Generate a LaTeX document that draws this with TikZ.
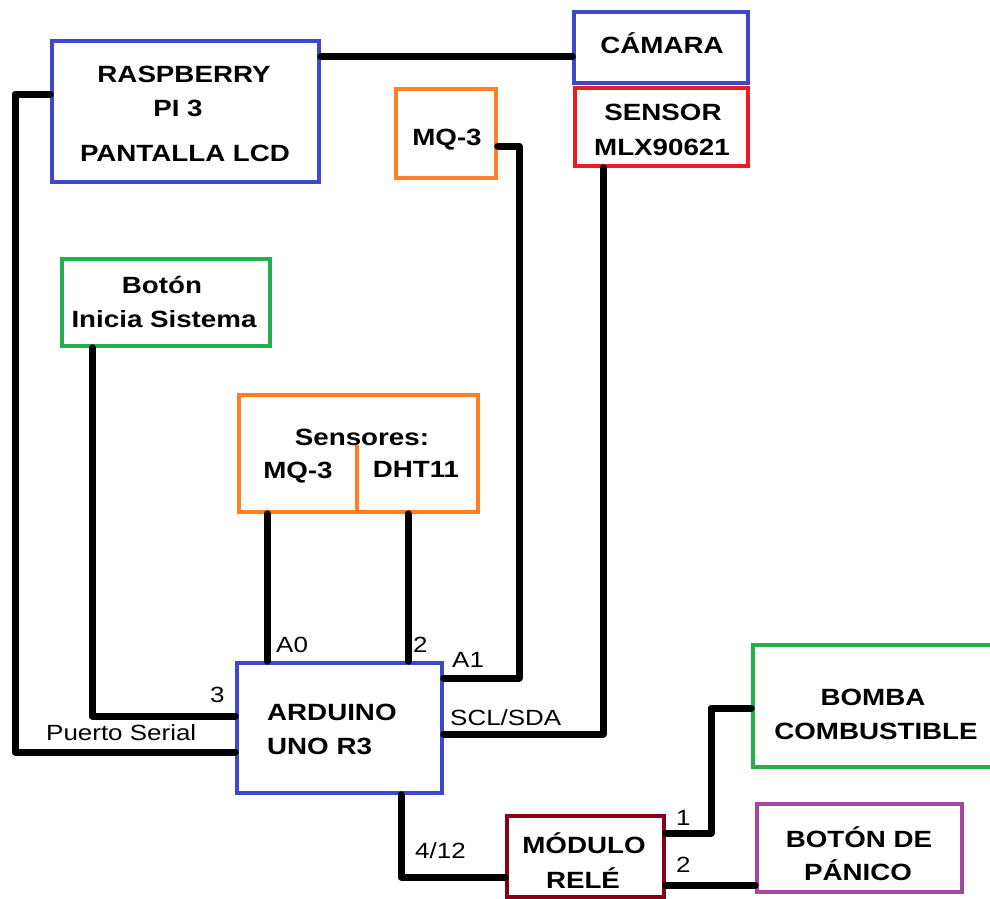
\documentclass[tikz,border=0pt]{standalone}
\usepackage{fontspec}
\setmainfont{Liberation Sans}[FakeStretch=1.18]
\usetikzlibrary{fit}
\definecolor{cblue}{HTML}{3F48CC}
\definecolor{corange}{HTML}{FF7F27}
\definecolor{cred}{HTML}{ED1C24}
\definecolor{cgreen}{HTML}{22B14C}
\definecolor{cpurple}{HTML}{A349A4}
\definecolor{cdarkred}{HTML}{880015}
\tikzset{
  blockbox/.style={draw=#1, line width=3.5pt, inner sep=0pt, fill=none},
  title/.style={anchor=base, inner sep=0pt, font=\fontsize{23.5}{28}\selectfont\bfseries},
  titleleft/.style={title, anchor=base west},
  pin/.style={anchor=base west, inner sep=0pt, font=\fontsize{22}{26}\selectfont},
  wire/.style={draw=black, line width=7pt, line cap=round, line join=round},
  divider/.style={draw=corange, line width=3.5pt}
}
\begin{document}
\begin{tikzpicture}[x=1pt,y=-1pt]
\clip (0,0) rectangle (990,899);
\fill[white] (0,0) rectangle (990,899);

% blocks
\node[blockbox=cblue,    fit={(52,41) (319,182)}]  (rpi)   {};
\node[blockbox=cblue,    fit={(574,12) (748,83)}]  (cam)   {};
\node[blockbox=cred,     fit={(575,88) (748,166)}] (mlx)   {};
\node[blockbox=corange,  fit={(396,89) (496,178)}] (mq)    {};
\node[blockbox=cgreen,   fit={(62,259) (270,346)}] (btn)   {};
\node[blockbox=corange,  fit={(239,395) (478,512)}] (sens) {};
\node[blockbox=cblue,    fit={(237,663) (442,793)}] (ard)  {};
\node[blockbox=cgreen,   fit={(753,645) (1000,767)}] (pump) {};
\node[blockbox=cpurple,  fit={(757,804) (962,892)}] (panic) {};
\node[blockbox=cdarkred, fit={(507,816) (664,897)}] (relay) {};
\draw[divider] (357,445) -- (sens.south -| 357,0);

% block texts
\node[title] (rpi-a) at (184,82)  {RASPBERRY};
\node[title] (rpi-b) at (178,116) {PI 3};
\node[title] (rpi-c) at (185,161) {PANTALLA LCD};
\node[title] (cam-a) at (662,54)  {CÁMARA};
\node[title] (mlx-a) at (663,120) {SENSOR};
\node[title] (mlx-b) at (662,155) {MLX90621};
\node[title] (mq-a)  at (447,145) {MQ-3};
\node[title] (btn-a) at (162,293) {Botón};
\node[title] (btn-b) at (164,327) {Inicia Sistema};
\node[title] (sens-a) at (362,445) {Sensores:};
\node[title] (sens-b) at (298,478) {MQ-3};
\node[title] (sens-c) at (416,477) {DHT11};
\node[titleleft] (ard-a) at (267,720) {ARDUINO};
\node[titleleft] (ard-b) at (267,754) {UNO R3};
\node[title] (pump-a) at (873,705) {BOMBA};
\node[title] (pump-b) at (876,739) {COMBUSTIBLE};
\node[title] (panic-a) at (859,847) {BOTÓN DE};
\node[title] (panic-b) at (858,880) {PÁNICO};
\node[title] (relay-a) at (584,853) {MÓDULO};
\node[title] (relay-b) at (583,888) {RELÉ};

% wiring
\coordinate (serialTop) at (15,94);
\coordinate (serialBot) at (15,752);
\draw[wire] (rpi.west |- serialTop) -- (serialTop) -- (serialBot) -- (ard.west |- serialBot);
\draw[wire] (rpi.east |- 0,57) -- (cam.west |- 0,57);
\coordinate (btnCorner) at (92,716);
\draw[wire] (btn.south -| btnCorner) -- (btnCorner) -- (ard.west |- btnCorner);
\coordinate (mqA) at (519,146);
\coordinate (mqB) at (519,678);
\draw[wire] (mq.east |- mqA) -- (mqA) -- (mqB) -- (ard.east |- mqB);
\coordinate (mlxA) at (603,734);
\draw[wire] (mlx.south -| mlxA) -- (mlxA) -- (ard.east |- mlxA);
\draw[wire] (sens.south -| 267,0) -- (ard.north -| 267,0);
\draw[wire] (sens.south -| 408,0) -- (ard.north -| 408,0);
\coordinate (relIn) at (401,877);
\draw[wire] (ard.south -| relIn) -- (relIn) -- (relay.west |- relIn);
\coordinate (outA) at (711,833);
\coordinate (outB) at (711,708);
\draw[wire] (relay.east |- outA) -- (outA) -- (outB) -- (pump.west |- outB);
\draw[wire] (relay.east |- 0,885) -- (panic.west |- 0,885);

% pin labels
\node[pin] (l-a0)  at (276,652) {A0};
\node[pin] (l-d2)  at (413,652) {2};
\node[pin] (l-a1)  at (452,667) {A1};
\node[pin] (l-d3)  at (210,702) {3};
\node[pin] (l-ser) at (46,740)  {Puerto Serial};
\node[pin] (l-i2c) at (450,725) {SCL/SDA};
\node[pin] (l-rel) at (415,858) {4/12};
\node[pin] (l-o1)  at (676,825) {1};
\node[pin] (l-o2)  at (676,872) {2};
\end{tikzpicture}
\end{document}
